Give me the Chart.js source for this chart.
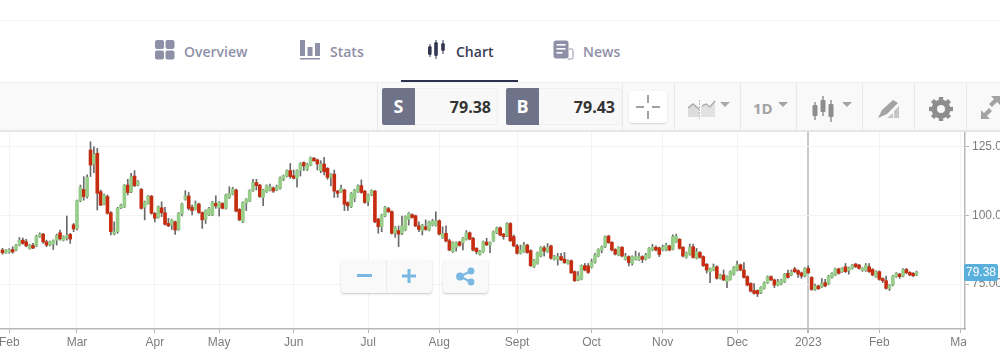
<!DOCTYPE html>
<html>
<head>
<meta charset="utf-8">
<title>Chart</title>
<script src="https://cdn.jsdelivr.net/npm/chart.js@4/dist/chart.umd.min.js"></script>
<style>
  html, body { margin: 0; padding: 0; background: #fff; overflow: hidden; }
  #page { position: relative; width: 1000px; height: 352px; overflow: hidden; font-family: "Open Sans", sans-serif; }
  #page div, #page svg { position: absolute; }
  #chartBox { left: 0; top: 132px; width: 1000px; height: 220px; }
  .tab { top: 42px; font-size: 14px; font-weight: 600; color: #8e90a8; line-height: 20px; }
  .sep { top: 83px; width: 1px; height: 47px; background: #e9e9e9; }
  .side { top: 88px; width: 33px; height: 37px; background: #6f7389; border-radius: 2px 0 0 2px; color: #fff; font-size: 18px; font-weight: 700; line-height: 37px; text-align: center; }
  .field { top: 88px; height: 35px; width: 82px; background: #f8f8f8; border: 1px solid #f0f0f0; border-left: 0; border-radius: 0 2px 2px 0; color: #333; font-size: 16px; font-weight: 700; line-height: 37px; text-align: right; box-sizing: content-box; }
  .float { background: #f9f9f9; border-radius: 3px; box-shadow: 0 1px 2px rgba(0,0,0,0.22); }
</style>
</head>
<body>
<div id="page">
  <div style="left:0;top:20px;width:1000px;height:1px;background:#f5f5f5"></div>

  <svg style="left:155px;top:40px" width="20" height="20" fill="#8e90a8"><rect x="0" y="0" width="9" height="9" rx="2"/><rect x="10.5" y="0" width="9" height="9" rx="2"/><rect x="0" y="10.5" width="9" height="9" rx="2"/><rect x="10.5" y="10.5" width="9" height="9" rx="2"/></svg>
  <div class="tab" style="left:184px">Overview</div>
  <svg style="left:300px;top:40px" width="20" height="20" fill="#8e90a8"><rect x="0" y="0" width="5" height="16"/><rect x="7.5" y="7" width="5" height="9"/><rect x="15" y="3" width="5" height="13"/><rect x="0" y="18" width="20" height="1.5"/></svg>
  <div class="tab" style="left:330px">Stats</div>
  <svg style="left:427px;top:40px" width="19" height="20" fill="#333650" stroke="#333650"><line x1="3" y1="4" x2="3" y2="17" stroke-width="1"/><rect x="1" y="6" width="3.6" height="9" rx="1.5" stroke="none"/><line x1="9" y1="0" x2="9" y2="19" stroke-width="1"/><rect x="7.2" y="2" width="3.6" height="14" rx="1.5" stroke="none"/><line x1="16" y1="0" x2="16" y2="14" stroke-width="1"/><rect x="14.2" y="3" width="3.6" height="8" rx="1.5" stroke="none"/></svg>
  <div class="tab" style="left:456px;color:#3a3d55">Chart</div>
  <svg style="left:553px;top:40px" width="21" height="20"><rect x="0.5" y="0.5" width="15" height="18" rx="2.5" fill="#8e90a8"/><rect x="3.5" y="4" width="9" height="1.6" fill="#fff"/><rect x="3.5" y="8" width="9" height="1.6" fill="#fff"/><rect x="3.5" y="12" width="6" height="1.6" fill="#fff"/><path d="M16 9h2.5a1.5 1.5 0 0 1 1.5 1.5v7a1.5 1.5 0 0 1-1.5 1.5H15" fill="none" stroke="#8e90a8" stroke-width="1"/></svg>
  <div class="tab" style="left:583px">News</div>
  <div style="left:401px;top:80px;width:117px;height:2px;background:#2f3150"></div>

  <div style="left:0;top:82px;width:1000px;height:50px;background:#f9f9f9;border-top:1px solid #efefef;border-bottom:2px solid #e6e6e6;box-sizing:border-box"></div>
  <div class="sep" style="left:377px"></div>
  <div class="sep" style="left:622px"></div>
  <div class="sep" style="left:674px"></div>
  <div class="sep" style="left:740px"></div>
  <div class="sep" style="left:796px"></div>
  <div class="sep" style="left:862px"></div>
  <div class="sep" style="left:914px"></div>
  <div class="sep" style="left:966px"></div>

  <div class="side" style="left:382px">S</div>
  <div class="field" style="left:415px;padding-right:6px;width:76px">79.38</div>
  <div class="side" style="left:506px">B</div>
  <div class="field" style="left:539px;padding-right:6px;width:76px">79.43</div>

  <div style="left:629px;top:91px;width:38px;height:32px;background:#fff;border-radius:3px;box-shadow:0 1px 2px rgba(0,0,0,0.15)"></div>
  <svg style="left:636px;top:95px" width="24" height="24" stroke="#8a8a8a" stroke-width="1.6"><line x1="0" y1="12" x2="8" y2="12"/><line x1="16" y1="12" x2="24" y2="12"/><line x1="12" y1="0" x2="12" y2="8"/><line x1="12" y1="16" x2="12" y2="24"/></svg>

  <svg style="left:688px;top:98px" width="44" height="22"><path d="M0 10l5-4 6 5 0 8H0z" fill="#dcdcdc"/><path d="M13 9l5-2 4 3 5-6 0 15H13z" fill="#e2e2e2"/><path d="M0 10l5-4 6 5M14 8l4-2 4 3 5-6" fill="none" stroke="#a9a9a9" stroke-width="1.4"/><line x1="11.5" y1="2" x2="11.5" y2="21" stroke="#bbb" stroke-dasharray="2 1"/><path d="M32 4h10l-5 5z" fill="#a9a9a9"/></svg>
  <div style="left:753px;top:97px;color:#a3a3a3;font-size:15px;font-weight:700;line-height:22px">1D</div>
  <svg style="left:778px;top:102px" width="10" height="6"><path d="M0 0h10l-5 5z" fill="#a3a3a3"/></svg>
  <svg style="left:812px;top:95px" width="42" height="27" stroke="#8d8d8d" fill="#8d8d8d"><line x1="3" y1="7" x2="3" y2="25" stroke-width="1.4"/><rect x="0.5" y="10" width="5" height="11" rx="1" stroke="none"/><line x1="11" y1="1" x2="11" y2="21" stroke-width="1.4"/><rect x="8.5" y="5" width="5" height="12" rx="1" stroke="none"/><line x1="19" y1="5" x2="19" y2="27" stroke-width="1.4"/><rect x="16.5" y="9" width="5" height="13" rx="1" stroke="none"/><path d="M30 7h10l-5 5z" fill="#a3a3a3" stroke="none"/></svg>
  <svg style="left:878px;top:99px" width="22" height="20"><path d="M0 19l4-8L15 1l5 3-11 11z" fill="#a3a3a3"/><path d="M9 19l6-5v5zM16 19v-7l5-5v12z" fill="#c5c5c5"/></svg>
  <svg style="left:929px;top:97px" width="24" height="24" viewBox="0 0 24 24"><circle cx="12" cy="12" r="7" fill="none" stroke="#8d8d8d" stroke-width="5"/><g stroke="#8d8d8d" stroke-width="4.4"><line x1="12" y1="0" x2="12" y2="24"/><line x1="0" y1="12" x2="24" y2="12"/><line x1="3.5" y1="3.5" x2="20.5" y2="20.5"/><line x1="20.5" y1="3.5" x2="3.5" y2="20.5"/></g><circle cx="12" cy="12" r="4" fill="#f9f9f9"/></svg>
  <svg style="left:981px;top:96px" width="19" height="23" fill="#a3a3a3"><path d="M0 23v-9l3 3 5-5 3 3-5 5 3 3zM19 0v9l-3-3-5 5-3-3 5-5-3-3z"/></svg>

  <div id="chartBox"><canvas id="candleChart" width="1000" height="220"></canvas></div>
  <div style="left:966px;top:332px;width:34px;height:20px;background:#fff"></div>

  <div class="float" style="left:341px;top:260px;width:91px;height:33px"></div>
  <div style="left:386px;top:260px;width:1px;height:33px;background:#ececec"></div>
  <svg style="left:357px;top:274px" width="15" height="4"><rect width="15" height="3" fill="#7ab8e4"/></svg>
  <svg style="left:402px;top:269px" width="14" height="14" fill="#7ab8e4"><rect x="0" y="5.5" width="14" height="3"/><rect x="5.5" y="0" width="3" height="14"/></svg>
  <div class="float" style="left:443px;top:260px;width:45px;height:33px"></div>
  <svg style="left:456px;top:267px" width="19" height="19"><line x1="15" y1="4" x2="4" y2="9.5" stroke="#7ab8e4" stroke-width="2"/><line x1="15" y1="15" x2="4" y2="9.5" stroke="#7ab8e4" stroke-width="2"/><circle cx="15" cy="4" r="3.4" fill="#7ab8e4"/><circle cx="15" cy="15" r="3.4" fill="#7ab8e4"/><circle cx="4" cy="9.5" r="3.9" fill="#7ab8e4"/></svg>
</div>

<script>
const openPrice = [
  87.4,86.4,86.7,87.6,87.4,89.2,91.0,90.4,88.0,89.1,88.9,92.3,93.2,90.4,89.2,89.6,91.0,93.7,91.0,91.8,
  93.1,96.6,95.2,105.4,109.5,106.9,123.9,118.8,122.7,108.7,104.2,106.9,101.0,93.2,94.1,102.8,103.2,111.1,108.7,114.4,
  111.1,109.5,103.0,104.4,107.1,100.8,99.3,102.8,101.0,97.1,
  96.5,97.7,94.9,100.5,105.9,107.1,103.0,102.2,104.2,101.1,98.6,100.2,100.2,104.4,102.8,104.4,102.6,106.6,107.8,109.3,
  102.2,97.7,104.4,105.3,109.1,112.0,111.1,106.6,108.7,109.3,110.1,109.3,109.9,113.3,114.4,116.4,114.5,113.6,116.4,119.3,
  116.8,118.4,120.9,120.3,116.4,118.8,117.2,113.9,115.1,108.9,
  108.7,109.3,104.7,103.2,106.3,108.7,110.9,108.9,105.0,107.5,108.9,98.7,95.9,99.8,102.5,101.4,93.5,94.5,93.5,94.7,
  98.6,100.3,99.9,96.2,94.5,95.9,94.7,96.5,96.4,98.1,91.9,93.5,90.8,86.8,88.4,90.3,90.1,91.3,93.7,91.7,
  88.0,85.8,86.8,90.3,89.2,90.8,93.7,95.5,93.2,92.6,
  97.1,92.3,88.9,86.2,86.8,89.2,87.2,81.3,82.5,85.2,88.2,86.8,88.9,84.0,84.0,85.0,84.1,82.5,83.5,79.5,
  76.4,76.8,81.7,81.6,81.1,82.9,85.2,87.4,88.6,92.5,90.2,87.6,85.6,88.4,84.0,85.0,82.5,84.0,83.8,85.0,
  84.0,84.7,87.4,88.4,88.2,87.4,87.4,88.9,87.7,90.4,
  91.3,88.4,84.7,85.8,88.6,84.4,86.5,85.0,82.2,79.5,80.1,81.3,77.1,78.3,75.8,76.7,78.5,80.1,82.0,80.1,
  77.7,75.2,72.6,72.6,71.8,73.4,75.5,77.7,76.5,74.6,75.0,75.8,78.9,78.3,80.5,79.9,79.1,77.9,80.7,77.4,
  73.0,74.3,74.0,75.5,75.0,77.4,78.3,80.5,79.5,81.3,
  79.9,80.7,82.3,81.9,79.9,79.9,81.3,80.3,77.7,79.5,77.0,76.2,73.4,74.6,77.7,78.6,77.9,80.3,79.2,78.9,78.3
];
const closePrice = [
  86.4,87.4,87.4,86.7,89.2,91.0,89.8,88.9,89.2,88.1,92.5,93.2,90.4,89.2,90.4,90.8,92.7,91.5,92.3,92.7,
  91.4,95.1,105.4,110.3,106.9,113.9,118.4,122.4,108.1,103.8,107.5,100.8,94.1,94.1,102.6,103.8,111.1,108.4,114.2,110.9,
  112.3,102.6,105.0,107.1,100.8,99.0,103.2,101.0,96.8,96.2,
  98.4,94.7,100.8,104.2,107.2,102.6,101.8,104.2,101.1,98.4,101.8,102.6,104.9,103.5,104.8,102.6,107.5,108.1,109.7,101.6,
  98.4,104.7,105.9,109.1,112.1,110.9,106.9,109.3,110.9,110.5,108.9,110.5,113.8,114.5,116.4,114.2,113.6,116.4,119.0,118.1,
  118.8,121.1,120.0,118.8,118.8,116.0,113.9,115.0,108.9,108.1,
  109.9,104.1,103.5,108.1,109.3,110.9,108.4,104.8,107.5,109.1,97.7,95.9,100.2,103.0,101.4,93.5,95.7,93.2,96.2,99.6,
  100.8,99.3,96.2,94.9,96.5,94.9,97.7,98.0,98.1,93.2,93.5,90.7,87.4,90.1,90.1,89.1,91.7,93.7,91.4,87.4,
  86.8,87.0,90.4,89.3,90.1,94.1,95.5,92.9,92.3,97.1,
  90.8,88.9,86.2,87.4,89.2,86.5,81.7,83.7,86.4,88.4,87.0,88.4,84.4,85.2,85.0,83.8,82.8,83.5,79.1,76.2,
  78.0,81.7,80.1,79.2,83.1,85.6,87.6,88.6,92.3,90.1,87.4,85.9,88.4,85.2,85.2,82.8,85.0,85.0,85.0,84.0,
  85.6,88.0,88.4,87.4,85.8,88.4,89.2,87.4,92.3,92.5,
  88.0,85.2,86.4,88.4,84.7,86.8,84.7,81.7,80.1,80.5,81.3,77.1,78.3,76.5,77.7,79.5,81.1,82.0,80.1,77.4,
  74.6,72.4,71.6,71.4,73.8,75.5,77.7,76.5,74.6,75.8,76.5,78.6,77.4,79.5,79.5,78.6,77.9,80.7,79.1,73.0,
  74.3,73.3,75.2,74.3,77.9,78.9,80.5,78.9,80.7,79.5,
  80.9,81.9,81.3,80.7,80.7,81.9,79.5,78.3,79.5,76.7,76.2,73.4,74.6,77.9,78.9,77.7,80.3,79.1,78.3,78.0,79.38
];
const highPrice = [
  88.0,87.6,87.9,88.6,89.5,92.0,91.8,91.3,89.5,89.8,92.8,93.7,93.5,91.0,90.7,91.1,93.2,94.7,92.6,99.8,
  93.5,97.1,105.6,111.1,114.2,114.8,126.9,125.1,124.5,109.3,107.8,107.5,101.4,97.7,103.0,104.2,111.3,113.2,115.4,116.4,
  112.7,109.9,105.3,107.4,107.3,101.1,103.5,105.0,103.0,99.0,
  98.7,98.0,101.1,104.5,109.1,108.4,103.8,105.3,104.5,101.3,102.1,103.0,105.2,107.2,105.1,104.7,107.8,110.5,110.3,109.6,
  102.5,105.0,106.2,109.4,113.2,113.2,111.4,109.6,111.2,111.5,110.4,111.1,114.1,114.8,116.7,119.0,116.6,116.7,119.3,119.6,
  119.1,121.4,121.2,120.6,120.0,121.2,117.5,115.3,116.6,109.2,
  111.1,109.6,105.0,108.4,109.6,111.2,113.0,109.2,107.8,109.4,109.2,99.0,100.5,103.3,103.0,101.7,96.0,96.2,99.8,99.9,
  101.1,100.6,100.2,97.7,96.8,98.4,98.0,98.6,101.3,98.4,95.9,96.2,91.4,90.4,90.4,90.6,92.0,94.5,94.0,92.0,
  88.3,87.3,90.7,91.7,90.4,94.4,95.8,95.8,93.5,97.4,
  97.4,92.9,89.5,89.2,90.2,89.5,87.5,84.0,86.7,88.7,88.9,89.8,89.2,85.5,86.2,86.2,86.5,83.8,83.8,79.8,
  79.5,82.0,82.5,82.5,84.1,86.2,87.9,88.9,92.6,92.8,90.5,87.9,88.7,88.7,86.2,85.3,85.3,87.0,86.4,85.3,
  86.2,88.3,89.5,88.9,88.5,89.2,89.8,89.2,92.9,93.2,
  91.6,88.7,86.7,89.6,89.6,88.0,86.8,85.3,82.5,80.8,82.3,81.6,78.6,80.1,78.0,79.8,81.4,83.4,82.3,82.8,
  78.0,75.5,75.2,72.9,74.1,75.8,78.0,78.0,76.8,76.7,76.8,78.9,80.1,80.1,81.1,80.2,79.4,81.0,81.6,77.7,
  75.0,74.6,77.0,76.7,78.2,79.2,80.8,80.8,81.0,82.5,
  81.2,82.2,82.5,82.2,81.0,82.5,82.5,80.6,79.8,79.8,77.3,77.9,74.9,78.2,79.2,78.9,80.6,80.7,79.5,79.2,79.7
];
const lowPrice = [
  85.9,86.2,86.2,86.2,87.1,88.9,89.5,88.6,87.7,87.9,88.6,92.0,89.8,88.6,88.9,87.6,89.2,91.0,90.7,91.0,
  89.8,94.1,94.7,105.0,105.6,106.3,114.2,115.6,102.0,103.6,103.9,100.5,92.9,92.9,93.5,102.5,102.9,107.5,108.3,110.5,
  110.8,102.3,98.4,104.1,100.5,97.7,99.0,99.6,96.5,95.9,
  94.9,93.1,94.6,99.8,105.6,102.0,100.2,102.0,100.8,95.3,97.1,99.9,99.9,102.6,99.8,102.4,102.3,106.2,107.5,101.3,
  98.1,97.4,101.8,105.0,108.8,109.3,106.6,103.6,108.4,109.0,108.4,109.0,109.6,112.7,114.1,113.6,113.3,110.3,114.4,116.4,
  116.4,118.1,119.7,116.6,115.6,114.8,113.2,110.8,106.6,106.6,
  108.4,101.8,101.8,102.9,105.0,108.4,108.1,104.4,103.6,107.2,97.4,93.5,94.1,99.5,101.1,93.2,92.0,88.6,93.0,94.4,
  96.5,99.0,95.9,94.1,92.9,94.6,94.4,96.2,96.1,92.9,91.6,90.4,87.1,86.5,87.0,88.8,87.4,91.0,91.1,87.1,
  85.9,85.5,86.5,89.0,86.4,90.5,93.4,92.6,91.3,92.3,
  90.5,88.6,85.9,85.9,86.5,86.2,81.4,81.0,82.2,84.9,85.2,86.5,84.1,83.7,81.9,83.5,82.5,82.2,78.8,75.9,
  76.1,76.5,79.8,78.9,80.8,82.6,84.9,86.4,88.3,89.8,87.1,85.6,85.3,84.9,83.7,81.6,81.9,83.7,83.5,82.8,
  83.7,84.4,87.1,87.1,85.0,87.1,87.1,87.1,87.4,90.1,
  87.7,84.9,84.4,85.5,84.4,84.1,84.4,81.4,79.0,75.5,79.8,76.8,76.8,76.2,73.7,76.4,78.2,79.8,79.8,77.1,
  74.3,72.1,71.3,70.4,71.5,73.1,75.2,76.2,73.7,74.3,74.7,75.5,77.1,78.0,79.2,77.4,77.1,77.6,78.8,72.7,
  72.7,73.0,73.7,74.0,74.7,77.1,78.0,78.6,79.2,79.2,
  78.6,80.4,81.0,80.4,79.6,79.6,79.2,78.0,77.4,76.4,75.5,73.1,72.6,74.3,77.4,77.0,77.6,78.8,78.0,77.7,78.0
];

// first trading day of each month, by candle number
const monthTickAt = [2, 22, 45, 64, 86, 108, 129, 152, 174, 195, 217, 238, 259, 283];
const monthTickLabel = ['Feb', 'Mar', 'Apr', 'May', 'Jun', 'Jul', 'Aug', 'Sept', 'Oct', 'Nov', 'Dec', '2023', 'Feb', 'Mar'];
const priceTicks = [75, 100, 125];

const UP_COLOR = '#97cd88';
const DOWN_COLOR = '#c62d10';
const yearTick = 238;

const wickData = highPrice.map((h, i) => ({ x: i, y: [lowPrice[i], h] }));
const bodyData = openPrice.map((o, i) => ({ x: i, y: [o, closePrice[i]] }));
const bodyColors = openPrice.map((o, i) => closePrice[i] >= o ? UP_COLOR : DOWN_COLOR);

const priceTag = {
  id: 'priceTag',
  afterDraw(chart) {
    const ctx = chart.ctx;
    const last = closePrice[closePrice.length - 1];
    const y = chart.scales.y.getPixelForValue(last);
    ctx.save();
    ctx.fillStyle = '#5ab0dd';
    ctx.beginPath();
    ctx.roundRect(964, y - 8, 34, 17, 2);
    ctx.fill();
    ctx.fillStyle = '#fff';
    ctx.font = '12px "Liberation Sans"';
    ctx.textAlign = 'center';
    ctx.textBaseline = 'middle';
    ctx.fillText(last.toFixed(2), 981, y + 1);
    ctx.restore();
  }
};

new Chart(document.getElementById('candleChart'), {
  type: 'bar',
  data: {
    datasets: [
      { data: bodyData, backgroundColor: bodyColors, barThickness: 3, grouped: false, order: 0 },
      { data: wickData, backgroundColor: '#6a6a6a', barThickness: 1, grouped: false, order: 1 }
    ]
  },
  plugins: [priceTag],
  options: {
    responsive: false,
    animation: false,
    layout: { padding: 0 },
    plugins: { legend: { display: false }, tooltip: { enabled: false } },
    scales: {
      x: {
        type: 'linear',
        offset: false,
        min: -0.74,
        max: 284.3,
        afterBuildTicks: axis => { axis.ticks = monthTickAt.map(v => ({ value: v })); },
        afterFit: axis => { axis.height = 23; axis.paddingLeft = 0; axis.paddingRight = 0; },
        grid: {
          offset: false,
          color: ctx => ctx.tick && ctx.tick.value === yearTick ? '#c9c9c9' : '#f3f3f3',
          lineWidth: ctx => ctx.tick && ctx.tick.value === yearTick ? 2 : 1,
          tickColor: '#b5b5b5',
          tickLength: 4
        },
        border: { color: '#b8b8b8', width: 1.5 },
        ticks: {
          autoSkip: false,
          maxRotation: 0,
          padding: 2,
          color: '#7d7d7d',
          font: { family: 'Liberation Sans', size: 12 },
          callback: value => monthTickLabel[monthTickAt.indexOf(value)]
        }
      },
      y: {
        position: 'right',
        min: 58.58,
        max: 130.47,
        afterBuildTicks: axis => { axis.ticks = priceTicks.map(v => ({ value: v })); },
        afterFit: axis => { axis.width = 35; axis.paddingTop = 0; axis.paddingBottom = 0; },
        grid: { color: '#f3f3f3', tickColor: '#b5b5b5', tickLength: 4 },
        border: { color: '#b8b8b8', width: 1.5 },
        ticks: {
          padding: 3,
          color: '#7d7d7d',
          font: { family: 'Liberation Sans', size: 12 },
          callback: value => value.toFixed(2)
        }
      }
    }
  }
});
</script>
</body>
</html>
